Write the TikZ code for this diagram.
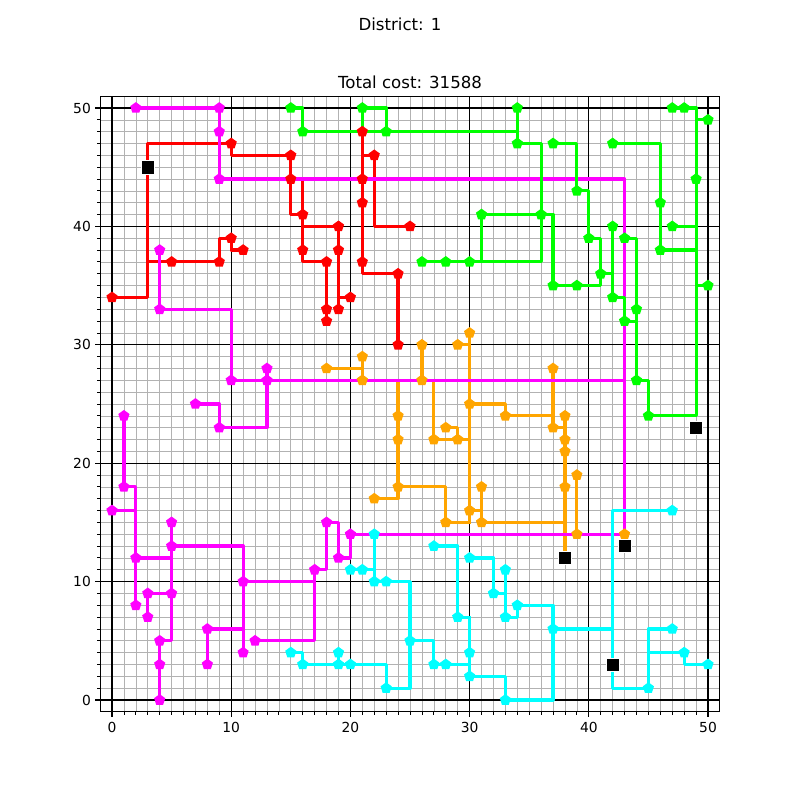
\documentclass[tikz,border=0pt]{standalone}
\usepackage{fontspec}
\setmainfont{DejaVu Sans}
\usetikzlibrary{shapes.geometric}

\definecolor{routered}{RGB}{255,0,0}
\definecolor{routegreen}{RGB}{0,255,0}
\definecolor{routemagenta}{RGB}{255,0,255}
\definecolor{routeorange}{RGB}{255,165,0}
\definecolor{routecyan}{RGB}{0,255,255}

\begin{document}
\begin{tikzpicture}
    [
        x=0.30277cm, y=0.30074cm,
        minorgrid/.style={draw=black!30, line width=0.45pt},
        majorgrid/.style={draw=black, line width=0.75pt},
        tickmark/.style={draw=black, line width=0.8pt},
        minortick/.style={draw=black, line width=0.6pt},
        route/.style={draw=#1, line width=2.3pt, line join=round, line cap=rect},
        stop/.style={regular polygon, regular polygon sides=5, fill=#1, inner sep=0pt, minimum size=8.5pt},
        depot/.style={rectangle, fill=black, draw=white, line width=0.3pt, inner sep=0pt, minimum size=9.5pt},
        ticklabel/.style={inner sep=0pt, font=\fontsize{10}{12}\selectfont},
        titlelabel/.style={inner sep=0pt, font=\fontsize{12}{14}\selectfont}
    ]
        \useasboundingbox (-9.396,-8.446) rectangle (57.718,59.12);
        % =========================================================================
        % GRID AND AXES
        % =========================================================================
        \foreach \g in {0,...,50} {
            \draw[minorgrid] (\g,-1) -- (\g,51);
            \draw[minorgrid] (-1,\g) -- (51,\g);
            \draw[minortick] (\g,-1) -- ++(0,-2pt);
            \draw[minortick] (-1,\g) -- ++(-2pt,0);
        }
        \foreach \tk in {0,10,...,50} {
            \draw[majorgrid] (\tk,-1) -- (\tk,51);
            \draw[majorgrid] (-1,\tk) -- (51,\tk);
            \draw[tickmark] (\tk,-1) -- ++(0,-3.5pt);
            \draw[tickmark] (-1,\tk) -- ++(-3.5pt,0);
            \node[ticklabel, anchor=north, yshift=-7.5pt] (xt-\tk) at (\tk,-1) {\tk};
            \node[ticklabel, anchor=east, xshift=-6.5pt] (yt-\tk) at (-1,\tk) {\tk};
        }
        \draw[majorgrid] (-1,-1) rectangle (51,51);

        % --- titles ---
        \node[titlelabel] (district) at (24.16,57.09) {District: 1};
        \node[titlelabel] (cost) at (25,52.2) {Total cost: 31588};

        % =========================================================================
        % ROUTES
        % =========================================================================
        % --- red ---
        \draw[route=routered] (0,34) -- (3,34) -- (3,47) -- (10,47) -- (10,46) -- (15,46) -- (15,41) -- (16,41);
        \draw[route=routered] (15,44) -- (21,44);
        \draw[route=routered] (16,44) -- (16,37) -- (18,37) -- (18,32);
        \draw[route=routered] (16,40) -- (19,40) -- (19,33);
        \draw[route=routered] (19,34) -- (20,34);
        \draw[route=routered] (3,37) -- (9,37) -- (9,39) -- (10,39) -- (10,38) -- (11,38);
        \draw[route=routered] (21,48) -- (21,36) -- (24,36) -- (24,30);
        \draw[route=routered] (21,46) -- (22,46) -- (22,40) -- (25,40);
        % --- orange ---
        \draw[route=routeorange] (18,28) -- (21,28);
        \draw[route=routeorange] (21,29) -- (21,27);
        \draw[route=routeorange] (26,30) -- (26,27);
        \draw[route=routeorange] (29,30) -- (30,30);
        \draw[route=routeorange] (30,31) -- (30,15);
        \draw[route=routeorange] (30,25) -- (33,25) -- (33,24) -- (37,24);
        \draw[route=routeorange] (24,27) -- (24,17) -- (22,17);
        \draw[route=routeorange] (24,18) -- (28,18) -- (28,15) -- (30,15);
        \draw[route=routeorange] (27,27) -- (27,22) -- (30,22);
        \draw[route=routeorange] (28,23) -- (29,23) -- (29,22);
        \draw[route=routeorange] (30,16) -- (31,16);
        \draw[route=routeorange] (31,18) -- (31,15) -- (38,15);
        \draw[route=routeorange] (37,28) -- (37,23) -- (38,23);
        \draw[route=routeorange] (38,24) -- (38,12);
        \draw[route=routeorange] (39,19) -- (39,14);
        % --- magenta ---
        \draw[route=routemagenta] (2,50) -- (9,50) -- (9,44) -- (43,44) -- (43,14) -- (20,14) -- (20,12) -- (19,12)
            -- (19,15) -- (18,15) -- (18,11) -- (17,11) -- (17,5) -- (12,5);
        \draw[route=routemagenta] (17,10) -- (11,10);
        \draw[route=routemagenta] (5,13) -- (11,13) -- (11,4);
        \draw[route=routemagenta] (11,6) -- (8,6) -- (8,3);
        \draw[route=routemagenta] (43,27) -- (10,27) -- (10,33) -- (4,33) -- (4,38);
        \draw[route=routemagenta] (13,28) -- (13,23) -- (9,23) -- (9,25) -- (7,25);
        \draw[route=routemagenta] (5,15) -- (5,5) -- (4,5) -- (4,0);
        \draw[route=routemagenta] (0,16) -- (2,16);
        \draw[route=routemagenta] (1,24) -- (1,18) -- (2,18) -- (2,8);
        \draw[route=routemagenta] (2,12) -- (5,12);
        \draw[route=routemagenta] (3,7) -- (3,9) -- (5,9);
        % --- cyan ---
        \draw[route=routecyan] (22,14) -- (22,10) -- (25,10) -- (25,1) -- (23,1) -- (23,3) -- (16,3) -- (16,4) -- (15,4);
        \draw[route=routecyan] (20,11) -- (22,11);
        \draw[route=routecyan] (19,4) -- (19,3);
        \draw[route=routecyan] (25,5) -- (27,5) -- (27,3) -- (30,3);
        \draw[route=routecyan] (27,13) -- (29,13) -- (29,7) -- (30,7);
        \draw[route=routecyan] (30,7) -- (30,2) -- (33,2) -- (33,0) -- (37,0) -- (37,8) -- (34,8) -- (34,7) -- (33,7) -- (33,11);
        \draw[route=routecyan] (30,12) -- (32,12) -- (32,9) -- (33,9);
        \draw[route=routecyan] (37,6) -- (42,6);
        \draw[route=routecyan] (47,16) -- (42,16) -- (42,1) -- (45,1) -- (45,6) -- (47,6);
        \draw[route=routecyan] (45,4) -- (48,4) -- (48,3) -- (50,3);
        % --- green ---
        \draw[route=routegreen] (15,50) -- (16,50) -- (16,48) -- (34,48);
        \draw[route=routegreen] (21,48) -- (21,50) -- (23,50) -- (23,48);
        \draw[route=routegreen] (34,50) -- (34,47) -- (36,47) -- (36,37) -- (26,37);
        \draw[route=routegreen] (31,37) -- (31,41) -- (36,41);
        \draw[route=routegreen] (36,41) -- (37,41) -- (37,35) -- (41,35) -- (41,36);
        \draw[route=routegreen] (37,47) -- (39,47) -- (39,43) -- (40,43) -- (40,39) -- (41,39) -- (41,36) -- (42,36);
        \draw[route=routegreen] (42,40) -- (42,34) -- (43,34) -- (43,32) -- (44,32);
        \draw[route=routegreen] (43,39) -- (44,39) -- (44,27) -- (45,27) -- (45,24) -- (49,24) -- (49,50) -- (47,50);
        \draw[route=routegreen] (42,47) -- (46,47) -- (46,38) -- (49,38);
        \draw[route=routegreen] (49,49) -- (50,49);
        \draw[route=routegreen] (47,40) -- (49,40);
        \draw[route=routegreen] (49,35) -- (50,35);

        % =========================================================================
        % STOPS
        % =========================================================================
        \foreach \sx/\sy in {0/34,10/47,15/46,15/44,16/41,16/38,18/37,18/33,18/32,19/40,19/38,19/33,20/34,
                5/37,9/37,10/39,11/38,21/48,21/44,21/42,21/37,22/46,25/40,24/36,24/30}
            \node[stop=routered] (red-\sx-\sy) at (\sx,\sy) {};
        \foreach \sx/\sy in {18/28,21/29,21/27,26/30,26/27,29/30,30/31,30/25,33/24,24/24,24/22,24/18,22/17,
                27/22,28/23,29/22,31/18,30/16,28/15,31/15,37/28,37/23,38/24,38/22,38/21,38/18,39/19,39/14,43/14}
            \node[stop=routeorange] (orange-\sx-\sy) at (\sx,\sy) {};
        \foreach \sx/\sy in {2/50,9/50,9/48,9/44,4/38,4/33,10/27,13/28,13/27,7/25,9/23,1/24,1/18,0/16,2/12,2/8,
                3/9,3/7,5/15,5/13,5/9,4/5,4/3,4/0,8/6,8/3,11/10,11/4,12/5,17/11,18/15,19/12,20/14}
            \node[stop=routemagenta] (magenta-\sx-\sy) at (\sx,\sy) {};
        \foreach \sx/\sy in {22/14,22/10,20/11,21/11,23/10,25/5,23/1,19/4,19/3,20/3,15/4,16/3,27/3,28/3,30/4,
                30/2,33/0,27/13,29/7,30/12,32/9,33/11,33/7,34/8,37/6,47/16,45/1,47/6,48/4,50/3}
            \node[stop=routecyan] (cyan-\sx-\sy) at (\sx,\sy) {};
        \foreach \sx/\sy in {15/50,16/48,21/50,23/48,34/50,34/47,36/41,31/41,26/37,28/37,30/37,37/47,39/43,
                40/39,41/36,37/35,39/35,42/47,46/42,46/38,47/50,48/50,50/49,49/44,47/40,42/40,43/39,42/34,
                44/33,43/32,44/27,45/24,50/35}
            \node[stop=routegreen] (green-\sx-\sy) at (\sx,\sy) {};

        % --- depots ---
        \foreach \sx/\sy in {3/45,49/23,38/12,43/13,42/3}
            \node[depot] (depot-\sx-\sy) at (\sx,\sy) {};
\end{tikzpicture}
\end{document}
